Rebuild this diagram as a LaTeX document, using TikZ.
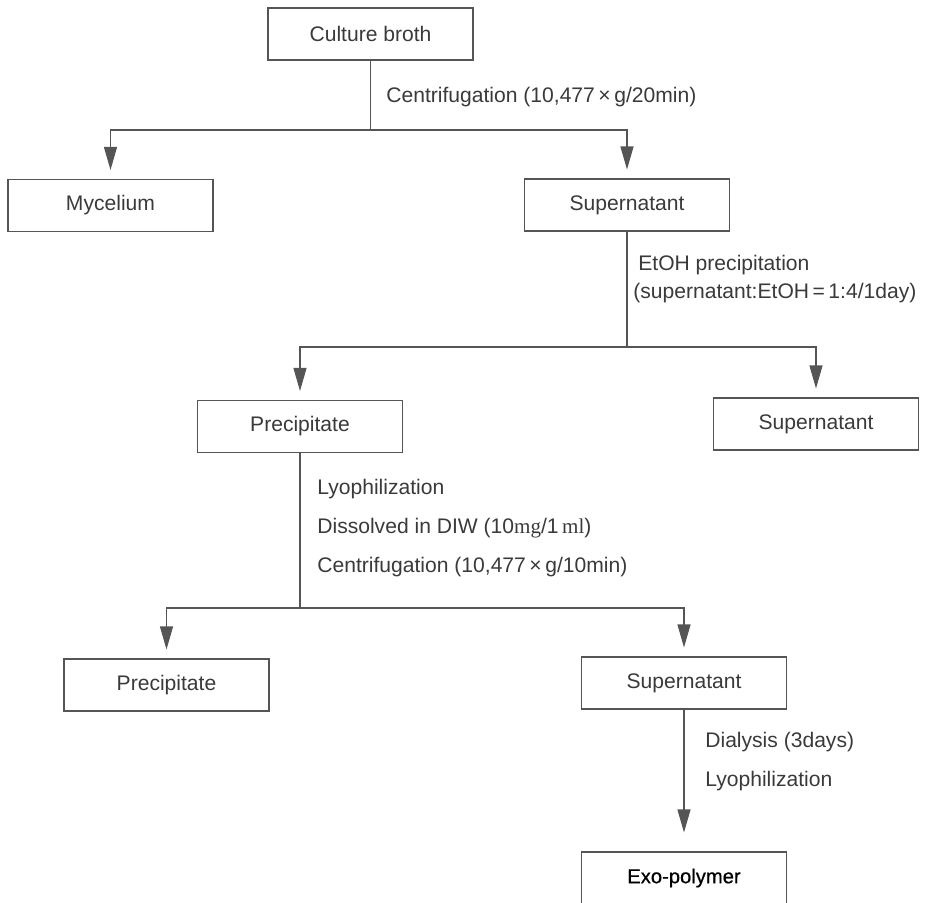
\documentclass[tikz,border=0pt]{standalone}
\usepackage{fontspec}
\setmainfont{Liberation Sans}
\newfontfamily\unitfont{Liberation Serif}
\usepackage{tikz}
\usetikzlibrary{arrows.meta}
\definecolor{inkgray}{HTML}{3A3A3A}
\definecolor{linegray}{HTML}{555555}

\begin{document}
\begin{tikzpicture}[
            x=0.02cm, y=-0.02cm,
            flowbox/.style={draw=linegray, line width=0.6pt, minimum width=4.1cm, minimum height=1.04cm, inner sep=0pt, text=inkgray, font=\fontsize{12}{14}\selectfont},
            steplabel/.style={anchor=west, inner sep=0pt, text=inkgray, font=\fontsize{12}{14}\selectfont},
            link/.style={draw=linegray, line width=0.6pt},
            arr/.style={link, -{Triangle[length=0.46cm, width=0.26cm]}, shorten >=0.18cm}
        ]
            \useasboundingbox (0,0) rectangle (927,903);
            \node[flowbox] (broth) at (370.5,34) {Culture broth};
            \node[flowbox] (myc) at (110.5,205.5) {Mycelium};
            \node[flowbox] (sup1) at (627,205) {Supernatant};
            \node[flowbox] (prec1) at (300,426.5) {Precipitate};
            \node[flowbox] (sup2) at (816,424) {Supernatant};
            \node[flowbox] (prec2) at (166.5,685) {Precipitate};
            \node[flowbox] (sup3) at (684,683) {Supernatant};
            \node[flowbox, text=black, font=\fontsize{11.5}{14}\selectfont\addfontfeature{FakeBold=0.6}] (exo) at (684,878) {Exo-polymer};
            \coordinate (j1) at (370.5,130);
            \coordinate (j2) at (627,347);
            \coordinate (j3) at (300,608);
            \draw[link] (broth) -- (j1);
            \draw[arr] (j1) -| (myc);
            \draw[arr] (j1) -| (sup1);
            \draw[link] (sup1) -- (j2);
            \draw[arr] (j2) -| (prec1);
            \draw[arr] (j2) -| (sup2);
            \draw[link] (prec1) -- (j3);
            \draw[arr] (j3) -| (prec2);
            \draw[arr] (j3) -| (sup3);
            \draw[arr, shorten >=0.38cm] (sup3) -- (exo);
            \node[steplabel] (c1) at (386,97) {Centrifugation (10,477\,×\,g/20min)};
            \node[steplabel] (e1) at (638,265) {EtOH precipitation};
            \node[steplabel] (e2) at (633,293) {(supernatant:EtOH\,=\,1:4/1day)};
            \node[steplabel] (l1) at (317,489) {Lyophilization};
            \node[steplabel] (d1) at (317,528) {Dissolved in DIW (10{\unitfont mg}/1\,{\unitfont ml})};
            \node[steplabel] (c2) at (317,567) {Centrifugation (10,477\,×\,g/10min)};
            \node[steplabel] (d2) at (705,742) {Dialysis (3days)};
            \node[steplabel] (l2) at (705,781) {Lyophilization};
        \end{tikzpicture}
\end{document}
